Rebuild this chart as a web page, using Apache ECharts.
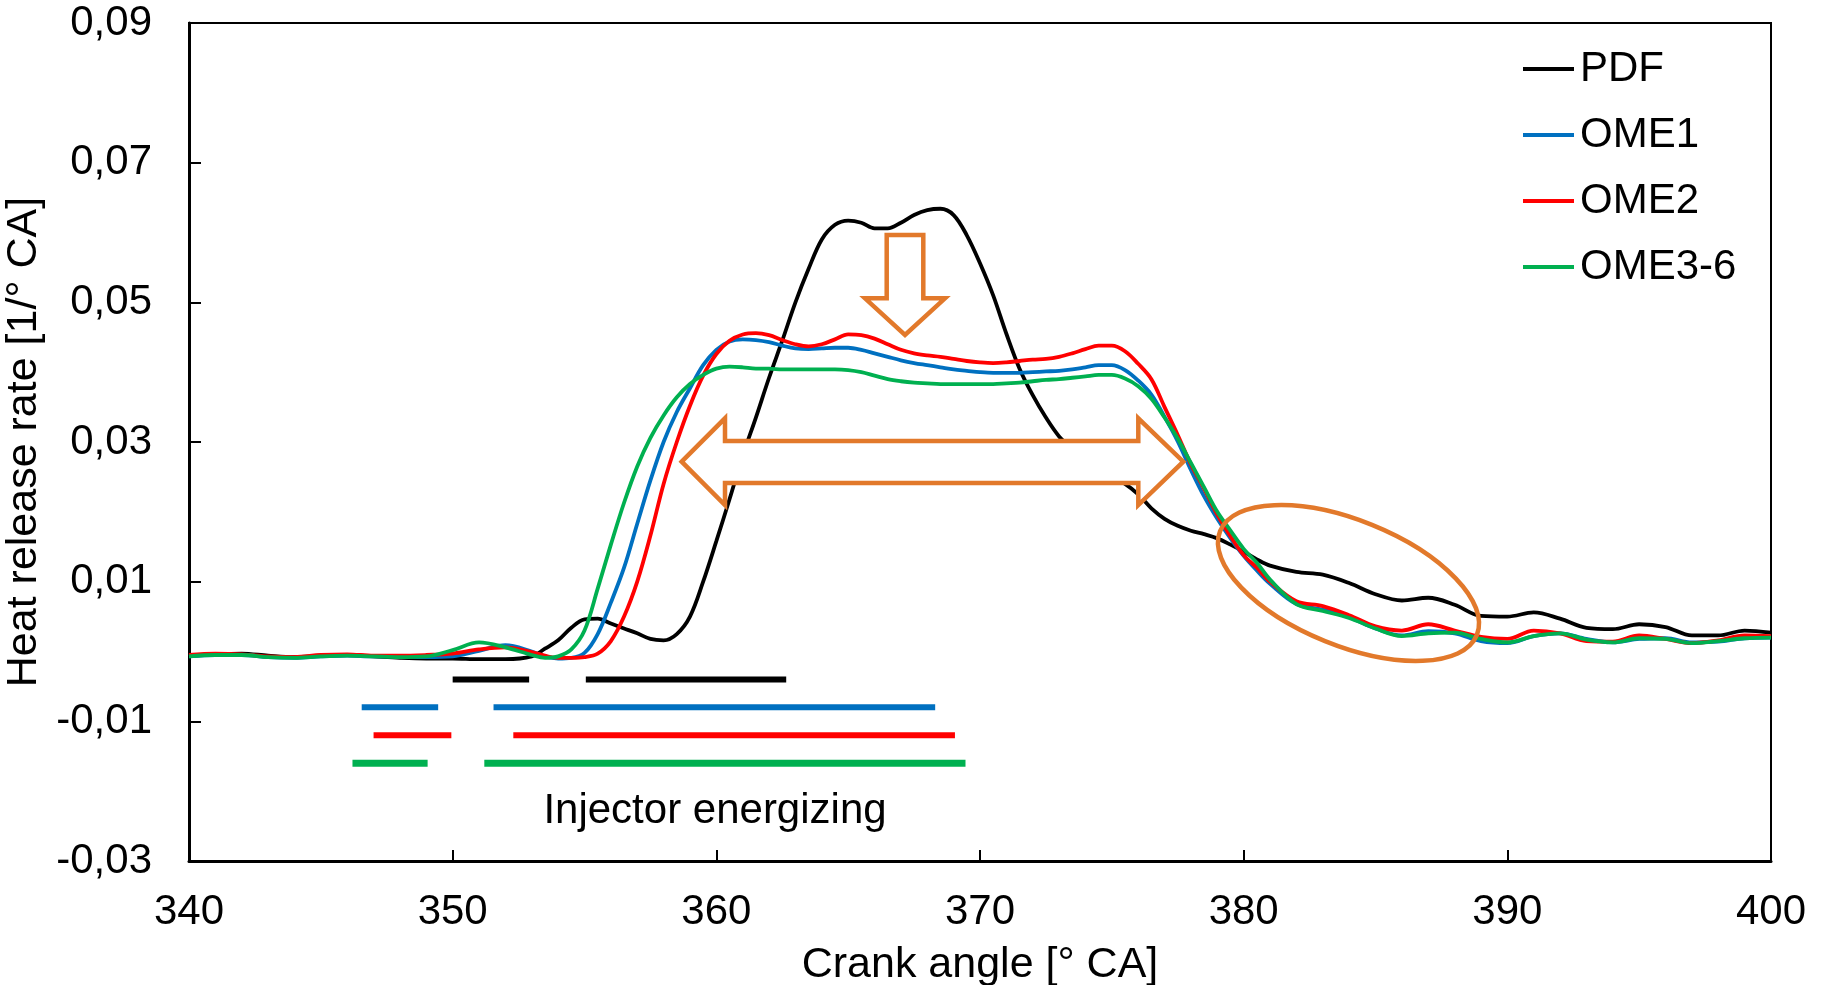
<!DOCTYPE html>
<html>
<head>
<meta charset="utf-8">
<script src="https://cdn.jsdelivr.net/npm/echarts/dist/echarts.min.js"></script>
<style>
  html, body { margin: 0; padding: 0; background: #fff; }
  #chart { width: 1826px; height: 985px; }
</style>
</head>
<body>
<div id="chart"></div>
<script>
// ---------- DATA ----------
const seriesNames = ['PDF', 'OME1', 'OME2', 'OME3-6'];

const crankAngle = [
  340, 341, 342, 343, 344, 345, 346, 347, 348, 349, 350, 351, 352,
  353, 353.5, 354, 354.5, 355, 355.5, 356, 356.5, 357, 357.5,
  358, 358.5, 359, 359.5, 360, 360.5, 361, 361.5, 362, 362.5,
  363, 363.5, 364, 364.5, 365, 365.5, 366, 366.5, 367, 367.5,
  368, 368.5, 369, 369.5, 370, 370.5, 371, 371.5, 372, 372.5,
  373, 373.5, 374, 374.5, 375, 375.5, 376, 376.5, 377, 377.5,
  378, 378.5, 379, 379.5, 380, 380.5, 381,
  382, 383, 384, 385, 386, 387, 388, 389, 390, 391, 392, 393, 394, 395, 396, 397, 398, 399, 400
];

const hrrPDF = [
  -0.0006, -0.0004, -0.0003, -0.0006, -0.0008, -0.0006, -0.0005, -0.0007, -0.0009, -0.0010, -0.0010, -0.0011, -0.0011,
  -0.0007, 0.0004, 0.0016, 0.0034, 0.0046, 0.0047, 0.0040, 0.0033, 0.0026, 0.0018,
  0.0016, 0.0025, 0.0050, 0.0100, 0.0158, 0.0218, 0.0280, 0.0335, 0.0392, 0.0445,
  0.0500, 0.0548, 0.0590, 0.0611, 0.0617, 0.0614, 0.0606, 0.0606, 0.0614, 0.0625,
  0.0632, 0.0634, 0.0625, 0.0596, 0.0556, 0.0510, 0.0455, 0.0405, 0.0367, 0.0335,
  0.0308, 0.0290, 0.0275, 0.0262, 0.0250, 0.0240, 0.0225, 0.0205, 0.0190, 0.0180,
  0.0173, 0.0168, 0.0162, 0.0153, 0.0143, 0.0132, 0.0123,
  0.0114, 0.0110, 0.0098, 0.0082, 0.0073, 0.0077, 0.0067, 0.0051, 0.0050, 0.0056, 0.0047, 0.0034, 0.0032, 0.0039, 0.0035, 0.0023, 0.0023, 0.0030, 0.0027
];

const hrrOME1 = [
  -0.0007, -0.0005, -0.0005, -0.0008, -0.0009, -0.0007, -0.0006, -0.0007, -0.0007, -0.0008, -0.0007, 0.0001, 0.0009,
  0.0000, -0.0007, -0.0010, -0.0009, -0.0002, 0.0025, 0.0070, 0.0120, 0.0183, 0.0245,
  0.0300, 0.0343, 0.0377, 0.0410, 0.0432, 0.0444, 0.0447, 0.0446, 0.0443, 0.0438,
  0.0434, 0.0433, 0.0434, 0.0435, 0.0435, 0.0432, 0.0427, 0.0422, 0.0417, 0.0413,
  0.0410, 0.0407, 0.0404, 0.0402, 0.0400, 0.0399, 0.0399, 0.0399, 0.0400, 0.0401,
  0.0402, 0.0404, 0.0407, 0.0410, 0.0410, 0.0403, 0.0388, 0.0368, 0.0336, 0.0301,
  0.0260, 0.0222, 0.0190, 0.0162, 0.0137, 0.0116, 0.0097,
  0.0068, 0.0060, 0.0049, 0.0033, 0.0023, 0.0029, 0.0026, 0.0015, 0.0012, 0.0022, 0.0026, 0.0018, 0.0013, 0.0018, 0.0019, 0.0013, 0.0014, 0.0019, 0.0020
];

const hrrOME2 = [
  -0.0005, -0.0003, -0.0004, -0.0007, -0.0008, -0.0005, -0.0004, -0.0006, -0.0006, -0.0005, -0.0003, 0.0003, 0.0006,
  -0.0001, -0.0006, -0.0009, -0.0009, -0.0008, -0.0003, 0.0015, 0.0050, 0.0100, 0.0166,
  0.0240, 0.0300, 0.0352, 0.0395, 0.0426, 0.0445, 0.0454, 0.0456, 0.0453, 0.0446,
  0.0440, 0.0437, 0.0440, 0.0447, 0.0454, 0.0453, 0.0448, 0.0440, 0.0432, 0.0427,
  0.0424, 0.0422, 0.0419, 0.0416, 0.0414, 0.0413, 0.0414, 0.0416, 0.0418, 0.0419,
  0.0422, 0.0427, 0.0433, 0.0438, 0.0438, 0.0430, 0.0412, 0.0390, 0.0350, 0.0310,
  0.0268, 0.0233, 0.0196, 0.0165, 0.0138, 0.0120, 0.0100,
  0.0072, 0.0065, 0.0052, 0.0036, 0.0030, 0.0039, 0.0030, 0.0021, 0.0018, 0.0030, 0.0026, 0.0015, 0.0014, 0.0023, 0.0018, 0.0012, 0.0016, 0.0023, 0.0022
];

const hrrOME36 = [
  -0.0007, -0.0005, -0.0005, -0.0008, -0.0009, -0.0007, -0.0006, -0.0007, -0.0008, -0.0007, 0.0002, 0.0013, 0.0006,
  -0.0005, -0.0009, -0.0007, 0.0003, 0.0030, 0.0090, 0.0153, 0.0213, 0.0265, 0.0306,
  0.0338, 0.0364, 0.0383, 0.0396, 0.0405, 0.0408, 0.0407, 0.0405, 0.0405, 0.0404,
  0.0404, 0.0404, 0.0404, 0.0404, 0.0403, 0.0400, 0.0395, 0.0390, 0.0387, 0.0385,
  0.0384, 0.0383, 0.0383, 0.0383, 0.0383, 0.0383, 0.0384, 0.0385, 0.0387, 0.0389,
  0.0390, 0.0392, 0.0394, 0.0396, 0.0396, 0.0391, 0.0380, 0.0362, 0.0335, 0.0305,
  0.0270, 0.0235, 0.0200, 0.0173, 0.0147, 0.0127, 0.0103,
  0.0068, 0.0058, 0.0048, 0.0033, 0.0022, 0.0026, 0.0027, 0.0018, 0.0013, 0.0022, 0.0026, 0.0017, 0.0013, 0.0019, 0.0018, 0.0012, 0.0015, 0.0019, 0.0020
];

// Injector energizing intervals [start, end] in ° CA, and the level they are drawn at
const energizePDF   = [[350.0, 352.9], [355.05, 362.65]];
const energizeOME1  = [[346.55, 349.45], [351.55, 368.3]];
const energizeOME2  = [[347.0, 349.95], [352.3, 369.05]];
const energizeOME36 = [[346.2, 349.05], [351.2, 369.45]];
const energizeLevels = [-0.004, -0.008, -0.012, -0.016];

const xTicks = { min: 340, max: 400, step: 10 };
const yTicks = { min: -0.03, max: 0.09, step: 0.02 };

// ---------- STYLE ----------
const colors = ['#000000', '#0070C0', '#FF0000', '#00B050'];
const FONT = '"Liberation Sans", Arial, "DejaVu Sans", sans-serif';
const FS = 42;
const FS_NAME = 43;
const ORANGE = '#E2792B';

const values = [hrrPDF, hrrOME1, hrrOME2, hrrOME36];
const energize = [energizePDF, energizeOME1, energizeOME2, energizeOME36];
const barWidths = [6, 6, 6, 7];

const series = [];
seriesNames.forEach((name, k) => {
  series.push({
    name: name,
    type: 'line',
    data: crankAngle.map((a, i) => [a, values[k][i]]),
    showSymbol: false,
    symbol: 'none',
    smooth: 0.35,
    lineStyle: { color: colors[k], width: 3.8 },
    itemStyle: { color: colors[k] },
    z: 3 + k
  });
});
energize.forEach((segs, k) => {
  segs.forEach((seg, j) => {
    series.push({
      name: seriesNames[k] + ' energizing ' + (j + 1),
      type: 'line',
      data: [[seg[0], energizeLevels[k]], [seg[1], energizeLevels[k]]],
      showSymbol: false,
      symbol: 'none',
      lineStyle: { color: colors[k], width: barWidths[k], cap: 'butt' },
      itemStyle: { color: colors[k] },
      silent: true,
      z: 2
    });
  });
});

const fmtY = v => v.toFixed(2).replace('.', ',').replace('-0,00', '0,00');

const chart = echarts.init(document.getElementById('chart'), null, { renderer: 'canvas' });
const option = {
  animation: false,
  backgroundColor: '#ffffff',
  textStyle: { fontFamily: FONT },
  grid: {
    left: 189, top: 23, width: 1582, height: 838,
    containLabel: false,
    outerBoundsMode: 'none',
    show: true, borderColor: '#000', borderWidth: 2, backgroundColor: 'transparent'
  },
  legend: {
    data: seriesNames,
    orient: 'vertical',
    left: 1523,
    top: 48,
    padding: 0,
    itemGap: 24,
    itemWidth: 51,
    itemHeight: 4,
    icon: 'rect',
    textStyle: { fontFamily: FONT, fontSize: FS, color: '#000', padding: [0, 0, 0, 1] }
  },
  xAxis: {
    type: 'value',
    min: xTicks.min, max: xTicks.max, interval: xTicks.step,
    name: 'Crank angle [° CA]',
    nameLocation: 'middle',
    nameGap: 83,
    nameTextStyle: { fontFamily: FONT, fontSize: FS_NAME, color: '#000' },
    axisLine: { show: true, onZero: false, lineStyle: { color: '#000', width: 3 } },
    axisTick: { show: true, inside: true, length: 11, lineStyle: { color: '#000', width: 2 } },
    axisLabel: { fontFamily: FONT, fontSize: FS, color: '#000', margin: 30 },
    splitLine: { show: false }
  },
  yAxis: {
    type: 'value',
    min: yTicks.min, max: yTicks.max, interval: yTicks.step,
    name: 'Heat release rate [1/° CA]',
    nameLocation: 'middle',
    nameGap: 129,
    nameTextStyle: { fontFamily: FONT, fontSize: FS_NAME, color: '#000' },
    axisLine: { show: true, onZero: false, lineStyle: { color: '#000', width: 3 } },
    axisTick: { show: true, inside: true, length: 12, lineStyle: { color: '#000', width: 2 } },
    axisLabel: { fontFamily: FONT, fontSize: FS, color: '#000', margin: 37, formatter: fmtY },
    splitLine: { show: false }
  },
  series: series,
  graphic: [
    {
      type: 'polygon',
      z: 100,
      shape: { points: [[886.7, 235], [923.3, 235], [923.3, 298.3], [945, 298.3], [905, 335], [865, 298.3], [886.7, 298.3]] },
      style: { fill: '#ffffff', stroke: ORANGE, lineWidth: 4.5, lineJoin: 'miter' }
    },
    {
      type: 'polygon',
      z: 100,
      shape: { points: [[681.7, 461.7], [725, 418.3], [725, 441], [1138.3, 441], [1138.3, 418.3], [1183.3, 461.7], [1138.3, 505], [1138.3, 483], [725, 483], [725, 505]] },
      style: { fill: '#ffffff', stroke: ORANGE, lineWidth: 4.5, lineJoin: 'miter' }
    },
    {
      type: 'ellipse',
      z: 100,
      x: 1348.5, y: 583,
      rotation: -22 * Math.PI / 180,
      shape: { cx: 0, cy: 0, rx: 138.5, ry: 62.7 },
      style: { fill: null, stroke: ORANGE, lineWidth: 4.5 }
    },
    {
      type: 'text',
      z: 100,
      x: 715, y: 811,
      style: {
        text: 'Injector energizing',
        font: FS + 'px ' + FONT,
        fill: '#000',
        textAlign: 'center', textVerticalAlign: 'middle',
        align: 'center', verticalAlign: 'middle'
      }
    }
  ]
};
chart.setOption(option);
</script>
</body>
</html>
